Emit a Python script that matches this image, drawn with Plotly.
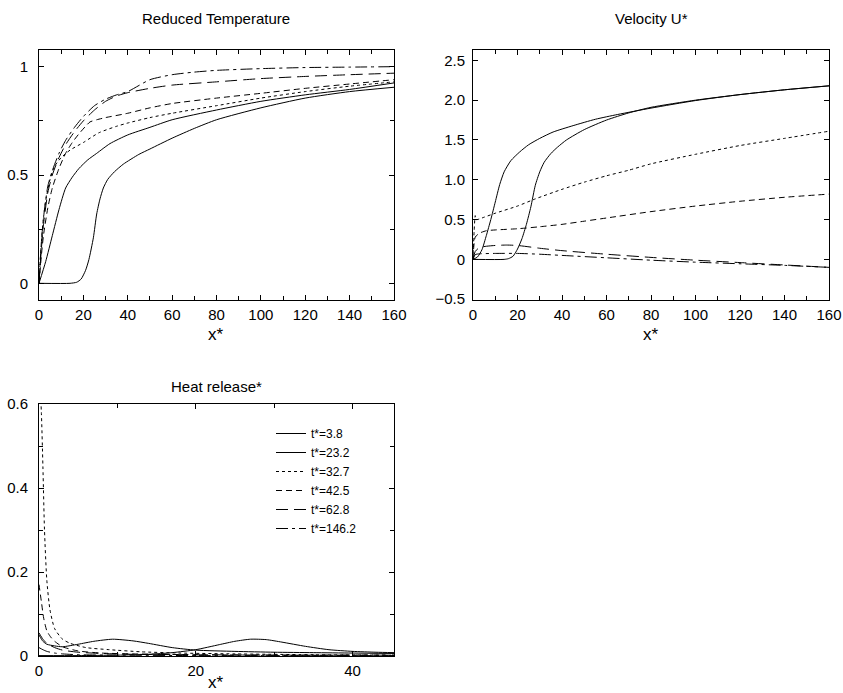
import plotly.graph_objects as go

W, H = 843, 693

labels = ["t*=3.8", "t*=23.2", "t*=32.7", "t*=42.5", "t*=62.8", "t*=146.2"]
dashes = ["solid", "solid", "dot", "6px,4px", "12px,6px", "12px,4px,3px,4px"]

# ---- Reduced temperature ----
T_x_38 = [0, 14, 17, 19, 21, 22.5, 24.5, 26, 27.5, 29, 31, 34, 38, 45, 50, 60, 70, 80, 100, 120, 140, 160]
T_y_38 = [0, 0, 0.005, 0.02, 0.06, 0.11, 0.21, 0.32, 0.39, 0.44, 0.48, 0.515, 0.55, 0.595, 0.62, 0.67, 0.715, 0.755, 0.81, 0.855, 0.885, 0.905]
T_x_232 = [0, 3, 6, 9, 12, 15, 18, 22, 26, 32, 40, 50, 60, 80, 100, 120, 140, 160]
T_y_232 = [0, 0.1, 0.22, 0.34, 0.44, 0.49, 0.53, 0.57, 0.6, 0.645, 0.685, 0.72, 0.755, 0.8, 0.84, 0.87, 0.895, 0.925]
T_x_327 = [0, 1, 2, 3, 5, 7, 10, 14, 20, 27, 35, 40, 50, 60, 80, 100, 120, 140, 160]
T_y_327 = [0, 0.18, 0.3, 0.38, 0.48, 0.54, 0.58, 0.615, 0.65, 0.695, 0.725, 0.74, 0.765, 0.785, 0.82, 0.855, 0.885, 0.91, 0.93]
T_x_425 = [0, 1, 2, 4, 6, 9, 12, 15, 18, 21, 23, 26, 30, 40, 50, 60, 80, 100, 120, 140, 160]
T_y_425 = [0, 0.12, 0.22, 0.35, 0.44, 0.53, 0.6, 0.65, 0.69, 0.725, 0.745, 0.755, 0.765, 0.785, 0.81, 0.83, 0.855, 0.877, 0.9, 0.92, 0.94]
T_x_628 = [0, 1, 2, 4, 6, 9, 12, 16, 20, 25, 30, 35, 40, 50, 60, 80, 100, 120, 140, 160]
T_y_628 = [0, 0.15, 0.27, 0.42, 0.5, 0.58, 0.64, 0.7, 0.75, 0.8, 0.84, 0.865, 0.88, 0.9, 0.915, 0.93, 0.945, 0.955, 0.963, 0.97]
T_x_1462 = [0, 1, 2, 4, 6, 9, 12, 16, 20, 25, 30, 35, 40, 50, 60, 70, 80, 100, 120, 140, 160]
T_y_1462 = [0, 0.18, 0.3, 0.45, 0.52, 0.6, 0.66, 0.72, 0.77, 0.82, 0.85, 0.87, 0.885, 0.94, 0.963, 0.975, 0.983, 0.991, 0.996, 0.998, 1.0]

# ---- Velocity U* ----
U_x_38 = [0, 14, 16, 18, 20, 22, 24, 26, 28, 30, 32, 35, 38, 42, 50, 60, 70, 80, 100, 120, 140, 160]
U_y_38 = [0, 0, 0.01, 0.04, 0.13, 0.26, 0.44, 0.66, 0.93, 1.1, 1.22, 1.33, 1.41, 1.5, 1.63, 1.75, 1.84, 1.91, 2.0, 2.07, 2.13, 2.18]
U_x_232 = [0, 2, 4, 6, 8, 10, 12, 14, 17, 21, 25, 30, 36, 45, 55, 65, 80, 100, 120, 140, 160]
U_y_232 = [0, 0.03, 0.12, 0.3, 0.5, 0.72, 0.94, 1.1, 1.24, 1.35, 1.44, 1.52, 1.6, 1.68, 1.76, 1.82, 1.9, 1.995, 2.07, 2.13, 2.18]
U_x_327 = [0, 0.5, 1, 1.5, 5, 10, 20, 28, 40, 50, 60, 70, 80, 100, 120, 140, 160]
U_y_327 = [0, 0.35, 0.55, 0.5, 0.53, 0.58, 0.67, 0.76, 0.88, 0.97, 1.05, 1.12, 1.2, 1.32, 1.43, 1.52, 1.61]
U_x_425 = [0, 1, 3, 6, 10, 20, 30, 40, 50, 60, 80, 100, 120, 140, 160]
U_y_425 = [0, 0.28, 0.33, 0.36, 0.37, 0.385, 0.41, 0.44, 0.48, 0.52, 0.6, 0.67, 0.73, 0.78, 0.82]
U_x_628 = [0, 1, 3, 6, 10, 15, 20, 30, 40, 60, 80, 100, 120, 140, 160]
U_y_628 = [0, 0.1, 0.15, 0.165, 0.175, 0.18, 0.175, 0.14, 0.11, 0.065, 0.025, -0.01, -0.04, -0.07, -0.1]
U_x_1462 = [0, 1, 3, 10, 20, 30, 40, 60, 80, 100, 120, 140, 160]
U_y_1462 = [0, 0.06, 0.07, 0.075, 0.075, 0.065, 0.05, 0.02, -0.01, -0.035, -0.055, -0.075, -0.1]

# ---- Heat release* ----
Q_x_38 = [0, 5, 10, 14, 17, 20, 23, 25, 27, 29, 31, 34, 37, 40, 43, 45.3]
Q_y_38 = [0.001, 0.001, 0.002, 0.004, 0.008, 0.015, 0.027, 0.035, 0.04, 0.039, 0.033, 0.023, 0.015, 0.011, 0.009, 0.008]
Q_x_232 = [0, 0.5, 1, 2, 3, 5, 7, 9.4, 12, 14, 17, 20, 25, 30, 35, 40, 45.3]
Q_y_232 = [0.05, 0.035, 0.028, 0.024, 0.022, 0.028, 0.035, 0.04, 0.036, 0.03, 0.02, 0.014, 0.011, 0.009, 0.008, 0.007, 0.006]
Q_x_327 = [0, 0.15, 0.3, 0.5, 0.7, 1, 1.4, 2, 3, 4, 6, 9, 13, 18, 25, 35, 45.3]
Q_y_327 = [0.62, 0.62, 0.58, 0.45, 0.3, 0.18, 0.11, 0.065, 0.04, 0.03, 0.02, 0.015, 0.01, 0.007, 0.005, 0.003, 0.002]
Q_x_425 = [0, 0.3, 0.6, 1, 1.5, 2, 3, 5, 8, 12, 20, 30, 45.3]
Q_y_425 = [0.17, 0.13, 0.09, 0.06, 0.045, 0.035, 0.022, 0.012, 0.007, 0.005, 0.003, 0.002, 0.002]
Q_x_628 = [0, 0.5, 1, 2, 3, 5, 8, 12, 20, 30, 45.3]
Q_y_628 = [0.055, 0.04, 0.03, 0.02, 0.014, 0.009, 0.006, 0.004, 0.003, 0.002, 0.002]
Q_x_1462 = [0, 0.5, 1, 2, 3, 5, 10, 20, 45.3]
Q_y_1462 = [0.02, 0.015, 0.011, 0.007, 0.005, 0.003, 0.002, 0.001, 0.001]

T_series = [(T_x_38, T_y_38), (T_x_232, T_y_232), (T_x_327, T_y_327),
            (T_x_425, T_y_425), (T_x_628, T_y_628), (T_x_1462, T_y_1462)]
U_series = [(U_x_38, U_y_38), (U_x_232, U_y_232), (U_x_327, U_y_327),
            (U_x_425, U_y_425), (U_x_628, U_y_628), (U_x_1462, U_y_1462)]
Q_series = [(Q_x_38, Q_y_38), (Q_x_232, Q_y_232), (Q_x_327, Q_y_327),
            (Q_x_425, Q_y_425), (Q_x_628, Q_y_628), (Q_x_1462, Q_y_1462)]

FONT = "Liberation Sans, Arial, Helvetica, sans-serif"
LW = 1.0

fig = go.Figure()
for (xs, ys), d in zip(T_series, dashes):
    fig.add_trace(go.Scatter(x=xs, y=ys, mode="lines", xaxis="x", yaxis="y",
                             line=dict(color="black", width=LW, dash=d, shape="spline", smoothing=0.6),
                             showlegend=False))
for (xs, ys), d in zip(U_series, dashes):
    fig.add_trace(go.Scatter(x=xs, y=ys, mode="lines", xaxis="x2", yaxis="y2",
                             line=dict(color="black", width=LW, dash=d, shape="spline", smoothing=0.6),
                             showlegend=False))
for (xs, ys), d, lab in zip(Q_series, dashes, labels):
    fig.add_trace(go.Scatter(x=xs, y=ys, mode="lines", xaxis="x3", yaxis="y3", name=lab,
                             line=dict(color="black", width=LW, dash=d, shape="spline", smoothing=0.6),
                             showlegend=True))

def px_x(a, b):
    return [a / W, b / W]

def px_y(top, bottom):
    return [1 - bottom / H, 1 - top / H]

common = dict(showline=True, linecolor="black", linewidth=1, mirror="ticks",
              ticks="inside", ticklen=5, tickwidth=1, tickcolor="black",
              showgrid=False, zeroline=False, automargin=False,
              tickfont=dict(family=FONT, size=15, color="black"))

def minor(dt):
    return dict(dtick=dt, tick0=0, ticks="inside", ticklen=4, tickwidth=1,
                tickcolor="black", showgrid=False)

fig.update_layout(
    template="none",
    width=W, height=H, margin=dict(l=0, r=0, t=0, b=0, autoexpand=False),
    paper_bgcolor="white", plot_bgcolor="white",
    font=dict(family=FONT, color="black"),
    showlegend=True,
    xaxis=dict(domain=px_x(39, 394), range=[0, 160], anchor="y",
               tickvals=[0, 20, 40, 60, 80, 100, 120, 140, 160],
               minor=minor(10), ticklabelstandoff=1, **common),
    yaxis=dict(domain=px_y(50, 300), range=[-0.077, 1.077], anchor="x",
               tickvals=[0, 0.5, 1], ticktext=["0", "0.5", "1"],
               minor=minor(0.25), ticklabelstandoff=7, **common),
    xaxis2=dict(domain=px_x(473, 829), range=[0, 160], anchor="y2",
                tickvals=[0, 20, 40, 60, 80, 100, 120, 140, 160],
                minor=minor(10), ticklabelstandoff=1, **common),
    yaxis2=dict(domain=px_y(50, 300), range=[-0.51, 2.63], anchor="x2",
                tickvals=[-0.5, 0, 0.5, 1.0, 1.5, 2.0, 2.5],
                ticktext=["\u22120.5", "0", "0.5", "1.0", "1.5", "2.0", "2.5"],
                ticklabelstandoff=4, **common),
    xaxis3=dict(domain=px_x(39, 394), range=[0, 45.3], anchor="y3",
                tickvals=[0, 20, 40],
                minor=minor(10), ticklabelstandoff=1, **common),
    yaxis3=dict(domain=px_y(404, 656), range=[0, 0.6], anchor="x3",
                tickvals=[0, 0.2, 0.4, 0.6], ticktext=["0", "0.2", "0.4", "0.6"],
                minor=minor(0.1), ticklabelstandoff=7, **common),
    legend=dict(x=271 / W, y=1 - 419 / H, xanchor="left", yanchor="top",
                bgcolor="rgba(0,0,0,0)", borderwidth=0,
                font=dict(family=FONT, size=12, color="black"),
                tracegroupgap=0),
)

def ann(text, xp, yp, size):
    fig.add_annotation(text=text, x=xp / W, y=1 - yp / H, xref="paper", yref="paper",
                       showarrow=False, xanchor="center", yanchor="middle",
                       font=dict(family=FONT, size=size, color="black"))

ann("Reduced Temperature", 216, 18, 15)
ann("Velocity U*", 651, 18, 15)
ann("Heat release*", 216, 386, 15)
ann("x*", 216, 334, 17)
ann("x*", 651, 334, 17)
ann("x*", 216, 682, 17)

fig.write_html("out.html", config={"displayModeBar": False},
               post_script="document.body.style.margin='0';document.body.style.padding='0';")
